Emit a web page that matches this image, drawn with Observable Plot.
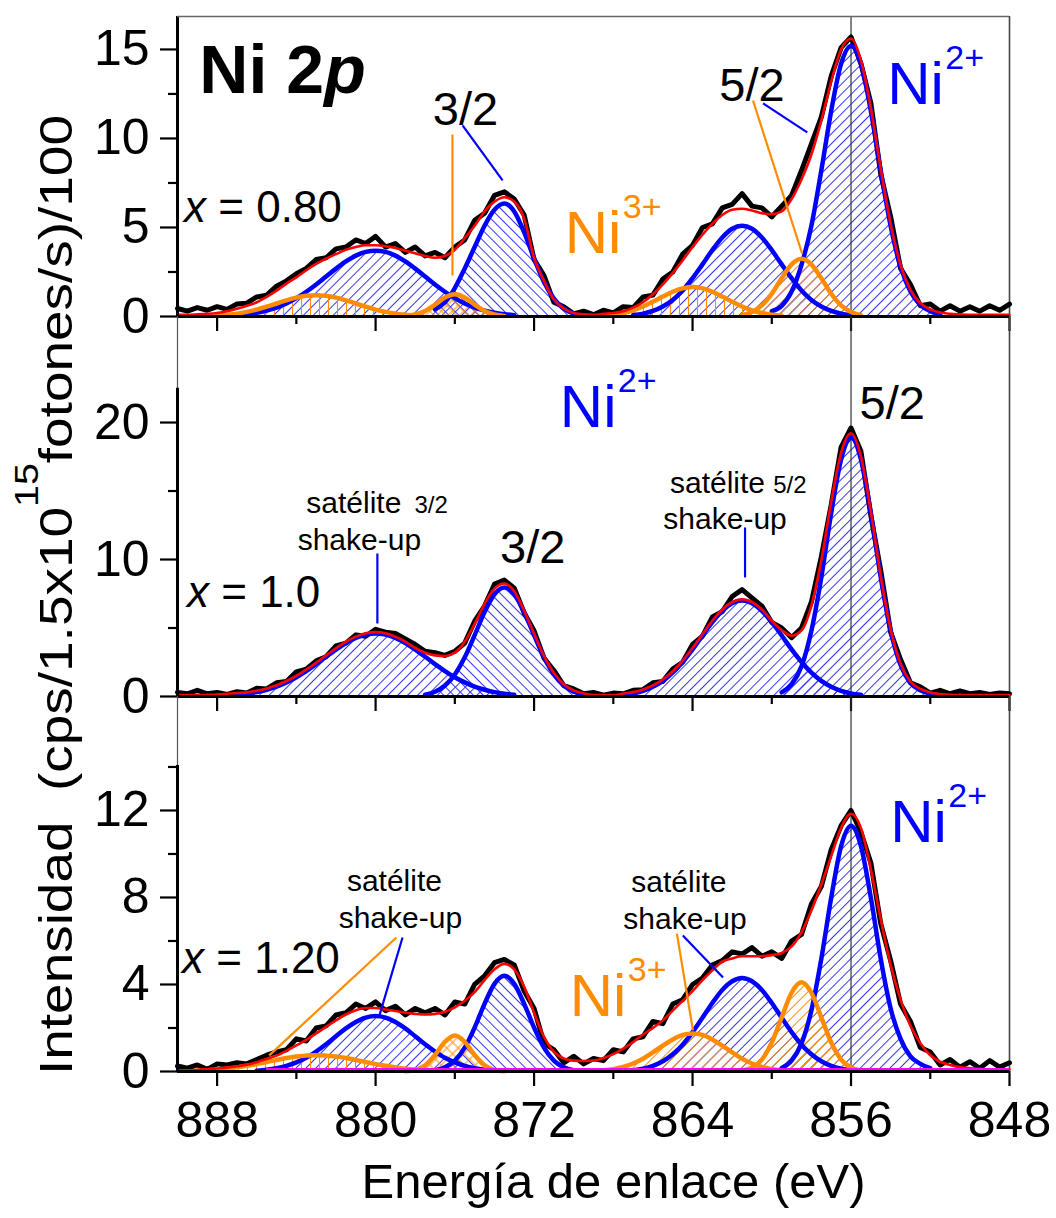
<!DOCTYPE html>
<html><head><meta charset="utf-8">
<script src="https://cdn.jsdelivr.net/npm/d3@7"></script>
<script src="https://cdn.jsdelivr.net/npm/@observablehq/plot@0.6"></script>
<style>
body{margin:0;background:#fff;}
#fig{position:relative;width:1056px;height:1218px;background:#fff;overflow:hidden;}
</style></head><body>
<svg width="0" height="0" style="position:absolute">
<defs>
<pattern id="hbF" patternUnits="userSpaceOnUse" width="7" height="7" patternTransform="rotate(45)"><line x1="3.5" y1="0" x2="3.5" y2="7" stroke="#3535ff" stroke-width="1"/></pattern>
<pattern id="hbB" patternUnits="userSpaceOnUse" width="7" height="7" patternTransform="rotate(-45)"><line x1="3.5" y1="0" x2="3.5" y2="7" stroke="#3535ff" stroke-width="1"/></pattern>
<pattern id="hoF" patternUnits="userSpaceOnUse" width="7" height="7" patternTransform="rotate(45)"><line x1="3.5" y1="0" x2="3.5" y2="7" stroke="#ff8c00" stroke-width="1"/></pattern>
<pattern id="hoV" patternUnits="userSpaceOnUse" width="9" height="9"><line x1="4.5" y1="0" x2="4.5" y2="9" stroke="#ff8c00" stroke-width="1.1"/></pattern>
<pattern id="hoX" patternUnits="userSpaceOnUse" width="8" height="8" patternTransform="rotate(45)"><line x1="4" y1="0" x2="4" y2="8" stroke="#ff8c00" stroke-width="1"/><line x1="0" y1="4" x2="8" y2="4" stroke="#ff8c00" stroke-width="1"/></pattern>
</defs></svg>
<div id="fig"></div>
<script>
const FONT = '"Liberation Sans", Arial, Helvetica, sans-serif';
const BLUE = "#0000ff", ORANGE = "#ff8c00", RED = "#ff0000", MAGENTA = "#ff00ff";

// Energy grid: 890 -> 848 eV in 0.5 eV steps (85 points)
const E0 = 890, STEP = 0.5;
const xMajor = [888, 880, 872, 864, 856, 848];
const xMinor = [884, 876, 868, 860, 852];

// ---------- Panel 1 : x = 0.80 ----------
const topData = [
  .45,.3,.5,.35,.55,.4,.7,.75,1.1,1.2,
  1.7,2.0,2.4,2.7,3.2,3.3,3.8,3.9,4.3,4.1,
  4.5,3.9,4.1,3.6,3.9,3.4,3.6,3.3,3.9,4.3,
  5.4,5.8,6.8,7.0,6.6,5.7,3.2,2.3,.8,.55,
  .15,.3,.1,.35,.2,.55,.5,1.1,1.2,2.1,
  2.5,3.5,4.0,5.0,5.2,6.1,6.3,6.9,6.2,6.1,
  5.6,6.2,6.8,8.2,9.7,11.2,13.5,15.1,15.7,14.2,
  12.0,8.0,5.6,2.7,1.8,.6,.7,.3,.6,.3,
  .55,.3,.6,.35,.7];
const topFit = [
  .1,.1,.12,.15,.2,.3,.43,.6,.8,1.1,
  1.45,1.85,2.2,2.6,2.95,3.25,3.5,3.75,3.9,4.0,
  4.0,3.95,3.85,3.7,3.55,3.4,3.3,3.4,3.75,4.4,
  5.1,5.9,6.45,6.7,6.45,5.5,3.3,2.0,.95,.45,
  .2,.12,.1,.15,.2,.3,.5,.8,1.25,1.8,
  2.45,3.15,3.9,4.6,5.2,5.7,6.0,6.05,5.95,5.8,
  5.75,5.9,6.6,7.7,9.1,11.0,13.2,15.0,15.6,14.4,
  11.7,8.3,5.2,2.9,1.5,.75,.4,.22,.15,.12,
  .1,.1,.1,.1,.1];
const topNi2 = [
  {start: 887.0, values: [0.07,0.13,0.21,0.33,0.50,0.73,1.03,1.39,1.80,2.25,2.69,3.09,3.42,3.63,3.70,3.63,3.42,3.09,2.69,2.25,1.80,1.39,1.03,0.73,0.50,0.33,0.21,0.13,0.07]},
  {start: 877.0, values: [0.40,0.80,1.60,2.70,3.90,5.10,6.00,6.35,5.90,4.72,3.26,1.94,1.00,0.44,0.17]},
  {start: 867.0, values: [0.08,0.16,0.31,0.56,0.93,1.46,2.15,2.93,3.73,4.44,4.93,5.10,4.93,4.44,3.73,2.93,2.15,1.46,0.93,0.56,0.31,0.16,0.08]},
  {start: 860.0, values: [0.3,0.6,1.4,2.9,5.1,8.2,11.55,14.2,15.2,14.2,11.55,8.19,5.08,2.8,1.4,0.65,0.3,0.12]}
];
const topNi3 = [
  {start: 888.0, values: [0.05,0.10,0.16,0.26,0.39,0.55,0.73,0.91,1.06,1.16,1.20,1.16,1.06,0.91,0.73,0.55,0.39,0.26,0.16,0.10,0.05]},
  {start: 878.5, values: [0.03,0.11,0.31,0.67,1.07,1.25,1.07,0.67,0.31,0.11,0.03]},
  {start: 868.5, values: [0.05,0.10,0.20,0.35,0.56,0.83,1.12,1.39,1.58,1.65,1.58,1.39,1.12,0.83,0.56,0.35,0.20,0.10,0.05]},
  {start: 861.5, values: [0.08,0.25,0.62,1.28,2.15,2.93,3.25,2.93,2.15,1.28,0.62,0.25,0.08]}
];
const topNi2Hatch = ["hbF", "hbB", "hbF", "hbF"];
const topNi3Hatch = ["hoV", "hoX", "hoV", "hoF"];
const topPointers = [
  {E1: 876.12, v1: 10.22, E2: 876.12, v2: 2.3, color: ORANGE},
  {E1: 875.61, v1: 10.73, E2: 873.59, v2: 7.64, color: BLUE},
  {E1: 860.95, v1: 12.13, E2: 858.47, v2: 3.54, color: ORANGE},
  {E1: 860.44, v1: 11.97, E2: 858.21, v2: 10.34, color: BLUE}
];
const topPeakLabels = [{E: 875.46, v: 10.73, text: "3/2"}, {E: 861.0, v: 12.13, text: "5/2"}];
const topIons = [
  {E: 854.17, v: 11.91, ion: "Ni", charge: "2+", color: BLUE},
  {E: 870.45, v: 3.54, ion: "Ni", charge: "3+", color: ORANGE}
];
const topSample = [{E: 889.67, v: 5.28, name: "x", value: " = 0.80"}];
const titleLabel = [{E: 888.9, v: 12.58, main: "Ni 2", orbital: "p"}];

// ---------- Panel 2 : x = 1.0 ----------
const midData = [
  .3,.2,.45,.2,.3,.15,.35,.25,.6,.55,
  1.0,1.1,1.8,2.0,2.6,2.9,3.7,3.9,4.5,4.4,
  4.9,4.7,4.6,4.2,3.8,3.3,3.2,3.0,3.3,3.9,
  5.5,6.6,8.2,8.5,7.9,6.1,4.8,2.8,1.9,.8,
  .55,.2,.3,.1,.25,.2,.45,.5,1.0,1.1,
  2.0,2.5,3.8,4.4,5.8,6.2,7.3,7.8,7.2,6.6,
  5.4,5.0,4.3,5.0,6.9,10.2,14.0,18.2,19.6,17.9,
  13.2,9.2,4.7,2.7,1.0,.7,.25,.45,.2,.4,
  .2,.3,.15,.25,.2];
const midFit = [
  .1,.1,.1,.12,.15,.2,.25,.3,.42,.59,
  .82,1.13,1.51,1.96,2.46,3.0,3.52,4.0,4.37,4.62,
  4.7,4.62,4.37,4.0,3.55,3.2,3.0,2.95,3.2,4.0,
  5.3,6.75,7.88,8.25,7.68,6.26,4.58,2.96,1.71,.9,
  .45,.24,.1,.1,.1,.22,.32,.51,.81,1.24,
  1.84,2.62,3.54,4.55,5.53,6.35,6.9,7.1,6.9,6.35,
  5.53,4.85,4.44,4.82,6.64,9.94,14.21,17.81,19.22,17.52,
  13.5,8.8,4.9,2.4,1.1,.55,.3,.18,.12,.1,
  .1,.1,.1,.1,.1];
const midNi2 = [
  {start: 887.0, values: [0.12,0.20,0.32,0.49,0.72,1.03,1.41,1.86,2.36,2.90,3.42,3.90,4.27,4.52,4.60,4.52,4.27,3.90,3.42,2.90,2.36,1.86,1.41,1.03,0.72,0.49,0.32,0.20,0.12]},
  {start: 877.5, values: [0.14,0.35,0.80,1.61,2.86,4.48,6.16,7.46,7.95,7.46,6.16,4.48,2.86,1.61,0.80,0.35,0.14]},
  {start: 867.5, values: [0.12,0.22,0.41,0.71,1.14,1.74,2.52,3.44,4.45,5.43,6.25,6.80,7.00,6.80,6.25,5.43,4.45,3.44,2.52,1.74,1.14,0.71,0.41,0.22,0.12]},
  {start: 859.5, values: [0.3,0.9,2.2,4.8,8.7,13.4,17.3,18.9,17.3,13.4,8.7,4.8,2.3,1.0,0.45,0.2,0.08]}
];
const midNi2Hatch = ["hbF", "hbB", "hbF", "hbF"];
const midPointers = [
  {E1: 879.91, v1: 10.44, E2: 879.91, v2: 5.33, color: BLUE},
  {E1: 861.35, v1: 12.34, E2: 861.35, v2: 8.69, color: BLUE}
];
const midPeakLabels = [{E: 872.07, v: 9.71, text: "3/2"}, {E: 853.92, v: 20.29, text: "5/2"}];
const midIons = [{E: 870.7, v: 19.64, ion: "Ni", charge: "2+", color: BLUE}];
const midSample = [{E: 889.52, v: 6.5, name: "x", value: " = 1.0"}];
const midSatWord = [{E: 883.5, v: 13.36, text: "satélite"}, {E: 865.14, v: 14.89, text: "satélite"}];
const midSatLevel = [{E: 878.04, v: 13.36, text: "3/2"}, {E: 859.93, v: 14.89, text: "5/2"}];
const midShake = [{E: 880.82, v: 10.66, text: "shake-up"}, {E: 862.36, v: 12.26, text: "shake-up"}];

// ---------- Panel 3 : x = 1.20 ----------
const botData = [
  .25,.15,.3,.1,.35,.3,.4,.35,.55,.75,
  .9,1.0,1.5,1.4,2.0,2.1,2.6,2.7,3.1,2.9,
  3.2,2.8,3.0,2.6,2.9,2.7,2.9,2.6,3.2,3.1,
  4.0,4.4,5.0,5.15,4.9,3.7,2.9,1.3,1.0,.4,
  .7,.35,.6,.5,1.0,.9,1.5,1.6,2.3,2.2,
  3.1,3.3,4.0,4.3,4.9,5.1,5.5,5.4,5.7,5.3,
  5.5,5.2,6.0,6.3,7.7,8.5,10.2,11.3,12.0,11.0,
  9.6,6.8,5.1,3.1,2.3,1.1,.9,.3,.55,.2,
  .45,.15,.5,.2,.4];
const botFit = [
  .05,.05,.08,.1,.14,.18,.24,.31,.43,.57,
  .73,.95,1.2,1.45,1.75,2.05,2.35,2.62,2.82,2.92,
  2.92,2.85,2.78,2.7,2.65,2.62,2.65,2.75,2.95,3.25,
  3.65,4.2,4.7,4.95,4.7,3.9,2.7,1.6,.9,.6,
  .5,.48,.5,.62,.8,1.05,1.35,1.7,2.0,2.35,
  2.8,3.25,3.7,4.2,4.65,5.05,5.2,5.3,5.3,5.3,
  5.35,5.45,5.75,6.4,7.4,8.6,9.9,11.2,11.85,11.2,
  9.3,7.0,4.9,3.3,2.1,1.3,.75,.45,.3,.2,
  .15,.12,.1,.1,.1];
const botNi2 = [
  {start: 886.0, values: [0.04,0.08,0.15,0.26,0.42,0.63,0.92,1.25,1.62,1.98,2.28,2.48,2.55,2.48,2.28,1.98,1.62,1.25,0.92,0.63,0.42,0.26,0.15,0.08,0.04]},
  {start: 877.0, values: [0.06,0.19,0.50,1.10,2.02,3.11,4.03,4.40,4.03,3.11,2.02,1.10,0.50,0.19,0.06]},
  {start: 867.0, values: [0.06,0.13,0.26,0.47,0.79,1.23,1.81,2.47,3.15,3.75,4.15,4.30,4.15,3.75,3.15,2.47,1.81,1.23,0.79,0.47,0.26,0.13,0.06]},
  {start: 859.5, values: [0.16,0.50,1.29,2.81,5.18,7.99,10.36,11.30,10.36,7.99,5.18,2.90,1.50,0.70,0.35,0.15]}
];
const botNi3 = [
  {start: 889.0, values: [0.03,0.05,0.09,0.13,0.19,0.26,0.34,0.44,0.53,0.62,0.69,0.73,0.75,0.73,0.69,0.62,0.53,0.44,0.34,0.26,0.19,0.13,0.09,0.05,0.03]},
  {start: 878.5, values: [0.01,0.07,0.28,0.76,1.36,1.65,1.36,0.76,0.28,0.07,0.01]},
  {start: 868.5, values: [0.05,0.11,0.21,0.37,0.59,0.88,1.19,1.47,1.68,1.75,1.68,1.47,1.19,0.88,0.59,0.37,0.21,0.11,0.05]},
  {start: 861.5, values: [0.05,0.18,0.55,1.33,2.49,3.62,4.10,3.62,2.49,1.33,0.55,0.18,0.05]}
];
const botNi2Hatch = ["hbF", "hbB", "hbF", "hbF"];
const botNi3Hatch = ["hoV", "hoX", "hoF", "hoF"];
const botBaseline = [885.5, 848];
const botPointers = [
  {E1: 878.95, v1: 6.16, E2: 885.37, v2: 0.74, color: ORANGE},
  {E1: 878.64, v1: 6.16, E2: 879.81, v2: 2.57, color: BLUE},
  {E1: 864.79, v1: 6.34, E2: 863.98, v2: 1.89, color: ORANGE},
  {E1: 864.49, v1: 6.25, E2: 862.46, v2: 4.32, color: BLUE}
];
const botIons = [
  {E: 854.02, v: 10.53, ion: "Ni", charge: "2+", color: BLUE},
  {E: 870.2, v: 2.57, ion: "Ni", charge: "3+", color: ORANGE}
];
const botSample = [{E: 889.77, v: 4.55, name: "x", value: " = 1.20"}];
const botSatWord = [{E: 879.05, v: 8.32, text: "satélite"}, {E: 864.69, v: 8.23, text: "satélite"}];
const botShake = [{E: 878.75, v: 6.62, text: "shake-up"}, {E: 864.38, v: 6.57, text: "shake-up"}];

const xTitle = "Energía de enlace (eV)";
const yTitleA = "Intensidad  (cps/1.5x10", yTitleSup = "15", yTitleB = "fotones/s)/100";

// ---------- helpers ----------
const rows = (start, values) => values.map((v, i) => ({E: start - STEP * i, v}));

function panelMarks(o) {
  const m = [];
  const b = (o.ni2 || []).map(c => rows(c.start, c.values));
  const r = (o.ni3 || []).map(c => rows(c.start, c.values));
  b.forEach((d, i) => m.push(Plot.areaY(d, {x: "E", y: "v", fill: `url(#${o.ni2Hatch[i]})`, curve: "monotone-x"})));
  r.forEach((d, i) => m.push(Plot.areaY(d, {x: "E", y: "v", fill: `url(#${o.ni3Hatch[i]})`, curve: "monotone-x"})));
  m.push(Plot.ruleX([856], {stroke: "#333", strokeWidth: 1.2}));
  m.push(Plot.ruleX([890], {stroke: "#555", strokeWidth: 1.2}));
  m.push(Plot.ruleX([848], {stroke: "#444", strokeWidth: 1.6}));
  m.push(Plot.lineY(rows(E0, o.data), {x: "E", y: "v", stroke: "#000", strokeWidth: 5, strokeLinejoin: "round"}));
  b.forEach(d => m.push(Plot.lineY(d, {x: "E", y: "v", stroke: BLUE, strokeWidth: 4.5, curve: "monotone-x"})));
  r.forEach(d => m.push(Plot.lineY(d, {x: "E", y: "v", stroke: ORANGE, strokeWidth: 4.5, curve: "monotone-x"})));
  m.push(Plot.lineY(rows(E0, o.fit), {x: "E", y: "v", stroke: RED, strokeWidth: 2.6, curve: "monotone-x"}));
  if (o.pointers) m.push(Plot.link(o.pointers, {x1: "E1", y1: "v1", x2: "E2", y2: "v2", stroke: "color", strokeWidth: 2.2}));
  if (o.peakLabels) m.push(Plot.text(o.peakLabels, {x: "E", y: "v", text: "text", fontSize: 47, textAnchor: "middle", lineAnchor: "bottom", fill: "#000"}));
  if (o.ions) {
    m.push(Plot.text(o.ions, {x: "E", y: "v", text: "ion", fill: "color", fontSize: 60, textAnchor: "start", lineAnchor: "bottom"}));
    m.push(Plot.text(o.ions, {x: "E", y: "v", text: "charge", fill: "color", fontSize: 34, textAnchor: "start", lineAnchor: "bottom", dx: 58, dy: -35}));
  }
  if (o.sample) {
    m.push(Plot.text(o.sample, {x: "E", y: "v", text: "name", fontSize: 44, fontStyle: "italic", textAnchor: "start", lineAnchor: "bottom"}));
    m.push(Plot.text(o.sample, {x: "E", y: "v", text: "value", fontSize: 44, textAnchor: "start", lineAnchor: "bottom", dx: 22}));
  }
  if (o.satWordStart) m.push(Plot.text(o.satWordStart, {x: "E", y: "v", text: "text", fontSize: 30, textAnchor: "start", lineAnchor: "bottom"}));
  if (o.satWordMid) m.push(Plot.text(o.satWordMid, {x: "E", y: "v", text: "text", fontSize: 30, textAnchor: "middle", lineAnchor: "bottom"}));
  if (o.satLevel) m.push(Plot.text(o.satLevel, {x: "E", y: "v", text: "text", fontSize: 24, textAnchor: "start", lineAnchor: "bottom"}));
  if (o.shake) m.push(Plot.text(o.shake, {x: "E", y: "v", text: "text", fontSize: 30, textAnchor: "middle", lineAnchor: "bottom"}));
  if (o.baseline) m.push(Plot.ruleY([0], {x1: o.baseline[0], x2: o.baseline[1], stroke: MAGENTA, strokeWidth: 3, dy: -2}));
  // axes
  m.push(Plot.axisY({ticks: o.yMajor, tickSize: 17, tickPadding: 11, fontSize: 50, strokeWidth: 2.2, label: null}));
  m.push(Plot.axisY({ticks: o.yMinor, tickSize: 9, tickFormat: () => "", strokeWidth: 2.2, label: null}));
  m.push(Plot.axisX({ticks: xMajor, tickSize: 15, tickPadding: 15, fontSize: 50, strokeWidth: 2.2, label: null, tickFormat: o.xLabels ? (d => String(d)) : (() => "")}));
  m.push(Plot.axisX({ticks: xMinor, tickSize: 8, tickFormat: () => "", strokeWidth: 2.2, label: null}));
  m.push(Plot.ruleX([890], {y1: 0, y2: o.axisTop, stroke: "#000", strokeWidth: 3}));
  m.push(Plot.ruleY([0], {stroke: "#000", strokeWidth: 3}));
  return m;
}

function makePlot(o, extra) {
  return Plot.plot({
    width: 1056, height: o.height,
    marginLeft: 177, marginRight: 47, marginTop: o.marginTop, marginBottom: o.marginBottom,
    x: {domain: [890, 848], label: null},
    y: {domain: [0, o.yMax], label: null},
    color: {type: "identity"},
    style: {background: "transparent", overflow: "visible", fontFamily: FONT},
    marks: [...panelMarks(o), ...(extra || [])]
  });
}

const fig = document.getElementById("fig");
function place(el, top) {
  el.style.position = "absolute"; el.style.left = "0px"; el.style.top = top + "px";
  fig.appendChild(el);
}

// Panel 1
const p1 = makePlot({
  height: 336, marginTop: 16, marginBottom: 20, yMax: 16.85, axisTop: 16.85,
  yMajor: [0, 5, 10, 15], yMinor: [2.5, 7.5, 12.5],
  data: topData, fit: topFit, ni2: topNi2, ni3: topNi3, ni2Hatch: topNi2Hatch, ni3Hatch: topNi3Hatch,
  pointers: topPointers, peakLabels: topPeakLabels, ions: topIons, sample: topSample
}, [
  Plot.ruleY([16.85], {stroke: "#666", strokeWidth: 1.5}),
  Plot.text(titleLabel, {x: "E", y: "v", text: "main", fontSize: 68, fontWeight: "bold", textAnchor: "start", lineAnchor: "bottom"}),
  Plot.text(titleLabel, {x: "E", y: "v", text: "orbital", fontSize: 68, fontWeight: "bold", fontStyle: "italic", textAnchor: "start", lineAnchor: "bottom", dx: 125})
]);
place(p1, 0);

// Panel 2
const p2 = makePlot({
  height: 410, marginTop: 10, marginBottom: 20, yMax: 27.74, axisTop: 22.5,
  yMajor: [0, 10, 20], yMinor: [5, 15],
  data: midData, fit: midFit, ni2: midNi2, ni3: [], ni2Hatch: midNi2Hatch, ni3Hatch: [],
  pointers: midPointers, peakLabels: midPeakLabels, ions: midIons, sample: midSample,
  satWordStart: midSatWord, satLevel: midSatLevel, shake: midShake
});
place(p2, 306);

// Panel 3
const p3 = makePlot({
  height: 532, marginTop: 10, marginBottom: 147, yMax: 17.24, axisTop: 14.07,
  yMajor: [0, 4, 8, 12], yMinor: [2, 6, 10, 14], xLabels: true,
  data: botData, fit: botFit, ni2: botNi2, ni3: botNi3, ni2Hatch: botNi2Hatch, ni3Hatch: botNi3Hatch,
  pointers: botPointers, ions: botIons, sample: botSample, satWordMid: botSatWord, shake: botShake,
  baseline: botBaseline
}, [
  Plot.text([xTitle], {frameAnchor: "bottom", text: d => d, fontSize: 49, lineAnchor: "bottom", dx: 20, dy: 126})
]);
place(p3, 686);

// Y axis title (spans all three panels)
const ns = "http://www.w3.org/2000/svg";
const ysvg = document.createElementNS(ns, "svg");
ysvg.setAttribute("width", "110"); ysvg.setAttribute("height", "1218");
ysvg.style.position = "absolute"; ysvg.style.left = "0px"; ysvg.style.top = "0px"; ysvg.style.overflow = "visible";
const yt = document.createElementNS(ns, "text");
yt.setAttribute("transform", "translate(72,1075) rotate(-90)");
yt.setAttribute("font-family", FONT);
yt.setAttribute("font-size", "46");
yt.setAttribute("textLength", "960");
yt.setAttribute("lengthAdjust", "spacingAndGlyphs");
yt.style.whiteSpace = "pre";
const t1 = document.createElementNS(ns, "tspan"); t1.textContent = yTitleA;
const t2 = document.createElementNS(ns, "tspan"); t2.textContent = yTitleSup; t2.setAttribute("dy", "-34"); t2.setAttribute("font-size", "33");
const t3 = document.createElementNS(ns, "tspan"); t3.textContent = yTitleB; t3.setAttribute("dy", "34");
yt.append(t1, t2, t3);
ysvg.appendChild(yt);
fig.appendChild(ysvg);
</script>
</body></html>
